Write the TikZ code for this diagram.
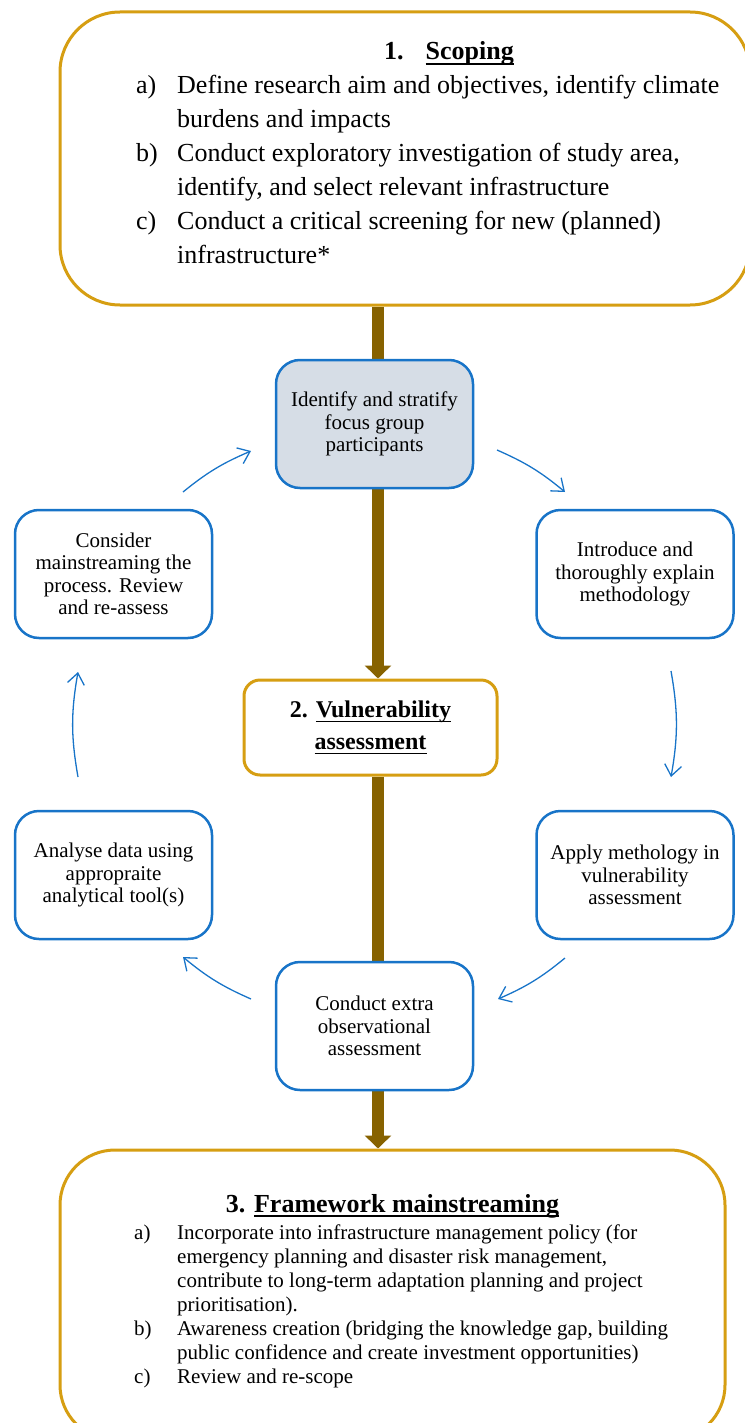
\documentclass[tikz,border=0pt]{standalone}
\usepackage{fontspec}
\setmainfont{Liberation Serif}
\usetikzlibrary{arrows.meta,backgrounds,positioning}
\definecolor{stagegold}{RGB}{214,158,18}
\definecolor{stembrown}{RGB}{135,98,0}
\definecolor{stepblue}{RGB}{24,116,200}
\definecolor{stepfill}{RGB}{214,221,230}
\newsavebox\undlbox
\newcommand{\undl}[1]{\sbox\undlbox{#1}\rlap{\rule[-5pt]{\wd\undlbox}{1.6pt}}\usebox\undlbox}
\tikzset{
    stage box/.style = {
        draw = stagegold,
        line width = 3pt,
        fill = white,
        },
    step box/.style = {
        draw = stepblue,
        line width = 2.5pt,
        rounded corners = 24pt,
        fill = white,
        minimum width = 197pt,
        minimum height = 128pt,
        align = center,
        font = \fontsize{21}{22.5}\selectfont,
        },
    current/.style = {
        fill = stepfill,
        },
    stem/.style = {
        draw = stembrown,
        line width = 12pt,
        -{Triangle[width=26pt,length=13pt]},
        },
    cycle arrow/.style = {
        draw = stepblue,
        line width = 1.3pt,
        -{Straight Barb[length=11pt,width=17pt]},
        },
    list text/.style = {
        anchor = base west,
        inner sep = 0pt,
        },
}

\begin{document}
\begin{tikzpicture}[x=1pt, y=-1pt]
            \useasboundingbox (0,0) rectangle (744,1423);

            % stages
            \node[stage box, rounded corners=60pt, minimum width=690pt, minimum height=293pt] (scoping) at (405,158.5) {};
            \node[stage box, rounded corners=16pt, minimum width=253pt, minimum height=95pt, align=center,
                  font=\bfseries\fontsize{24}{32}\selectfont] (assess) at (370.5,727.5)
                  {2. \undl{Vulnerability}\\\undl{assessment}};
            \node[stage box, rounded corners=55pt, minimum width=665pt, minimum height=290pt] (framework) at (392.5,1295) {};

            \node[list text, font=\bfseries\fontsize{26}{34}\selectfont] (scopetitle) at (384,60)
                  {1.\hspace{22pt}\undl{Scoping}};
            \node[list text, font=\fontsize{26}{34}\selectfont] (scopelist) at (136,94) {%
                \begin{tabular}[t]{@{}p{41pt}@{}l@{}}
                a) & Define research aim and objectives, identify climate\\
                   & burdens and impacts\\
                b) & Conduct exploratory investigation of study area,\\
                   & identify, and select relevant infrastructure\\
                c) & Conduct a critical screening for new (planned)\\
                   & infrastructure*
                \end{tabular}};

            \node[anchor=base, inner sep=0pt, font=\bfseries\fontsize{26}{34}\selectfont] (frametitle) at (392.5,1212)
                  {3. \undl{Framework mainstreaming}};
            \node[list text, font=\fontsize{21}{24}\selectfont] (framelist) at (134,1239) {%
                \begin{tabular}[t]{@{}p{43pt}@{}l@{}}
                a) & Incorporate into infrastructure management policy (for\\
                   & emergency planning and disaster risk management,\\
                   & contribute to long-term adaptation planning and project\\
                   & prioritisation).\\
                b) & Awareness creation (bridging the knowledge gap, building\\
                   & public confidence and create investment opportunities)\\
                c) & Review and re-scope
                \end{tabular}};

            % cycle of steps
            \node[step box, current] (ident) at (374.5,424) {Identify and stratify\\focus group\\participants};
            \node[step box] (intro) at (635,574) {Introduce and\\thoroughly explain\\methodology};
            \node[step box] (apply) at (635,875) {Apply methology in\\vulnerability\\assessment};
            \node[step box] (extra) at (374.5,1026) {Conduct extra\\observational\\assessment};
            \node[step box] (analyse) at (113.5,875) {Analyse data using\\appropraite\\analytical tool(s)};
            \node[step box] (consider) at (113.5,574) {Consider\\mainstreaming the\\process. Review\\and re-assess};

            \coordinate (bar) at (378,0);
            \begin{scope}[on background layer]
                \draw[stem] (scoping.south -| bar) -- (assess.north -| bar);
                \draw[stem] (assess.south -| bar) -- (framework.north -| bar);
            \end{scope}

            \coordinate (c1) at (183,492);
            \coordinate (c2) at (251,451);
            \coordinate (c3) at (497,450);
            \coordinate (c4) at (565,492);
            \coordinate (c5) at (671,671);
            \coordinate (c6) at (671,777);
            \coordinate (c7) at (565,958);
            \coordinate (c8) at (498,999);
            \coordinate (c9) at (251,999);
            \coordinate (c10) at (183,957);
            \coordinate (c11) at (78,777);
            \coordinate (c12) at (78,672);

            \draw[cycle arrow] (c1) to[bend left=8] (c2);
            \draw[cycle arrow] (c3) to[bend left=8] (c4);
            \draw[cycle arrow] (c5) to[bend left=10] (c6);
            \draw[cycle arrow] (c7) to[bend left=8] (c8);
            \draw[cycle arrow] (c9) to[bend left=8] (c10);
            \draw[cycle arrow] (c11) to[bend left=10] (c12);
\end{tikzpicture}
\end{document}
